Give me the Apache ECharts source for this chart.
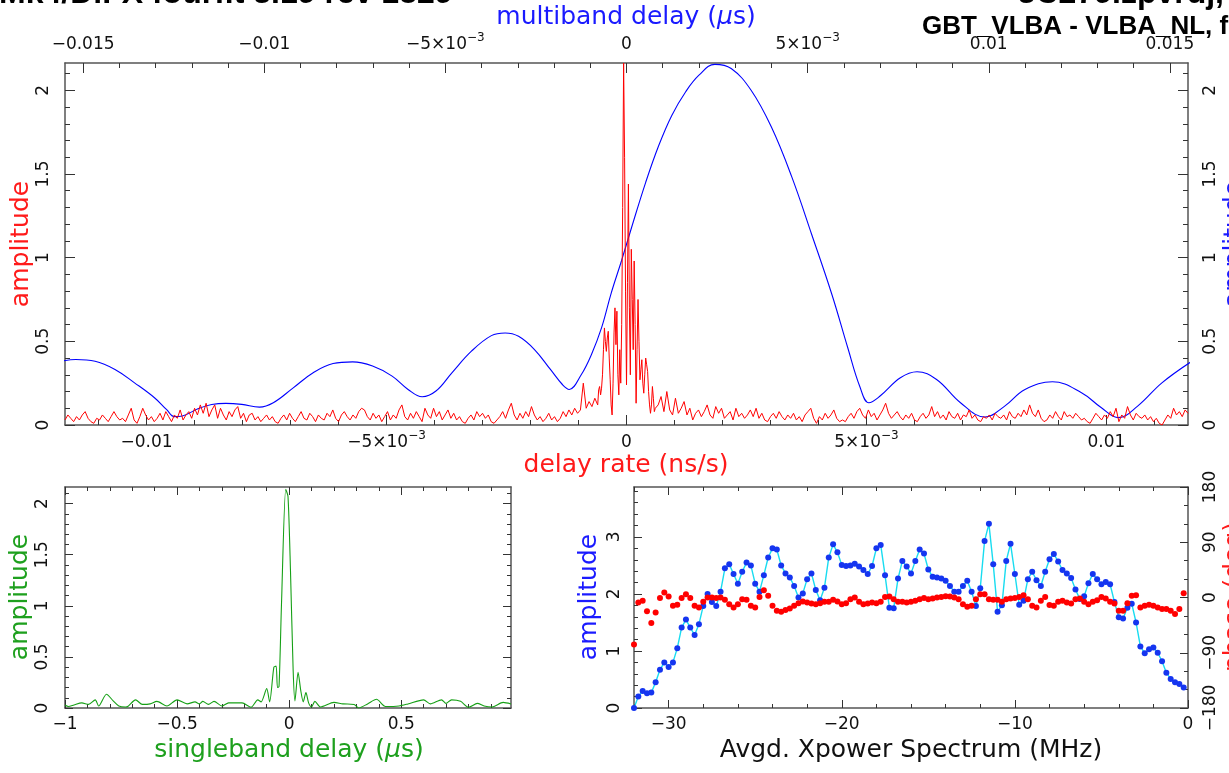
<!DOCTYPE html>
<html>
<head>
<meta charset="utf-8">
<script src="https://cdn.jsdelivr.net/npm/echarts@6/dist/echarts.min.js"></script>
<style>
html,body{margin:0;padding:0;background:#fff;overflow:hidden}
#chart{width:1229px;height:773px}
</style>
</head>
<body>
<div id="chart"></div>
<script>
// ---------- tick label positions ----------
const rateTicks = [-0.01, -0.005, 0, 0.005, 0.01];
const mbdTicks = [-0.015, -0.01, -0.005, 0, 0.005, 0.01, 0.015];
const ampTicks = [0, 0.5, 1, 1.5, 2];
const sbdTicks = [-1, -0.5, 0, 0.5];
const freqTicks = [-30, -20, -10, 0];
const specAmpTicks = [0, 1, 2, 3];
const phaseTicks = [-180, -90, 0, 90, 180];

// ---------- delay-rate amplitude (ns/s) ----------
const rateStep = 0.00006;
const rateLeftStart = -0.0117;
const rateLeftAmp = [
  0.03,0.06,0.04,0.02,0.05,0.03,0.06,0.08,0.04,0.02,
  0.01,0.04,0.03,0.06,0.04,0.02,0.05,0.08,0.05,0.03,
  0.04,0.02,0.06,0.10,0.03,0.01,0.05,0.10,0.06,0.03,
  0.05,0.02,0.04,0.07,0.03,0.08,0.05,0.02,0.06,0.04,
  0.09,0.03,0.06,0.08,0.04,0.10,0.06,0.12,0.07,0.13,
  0.05,0.09,0.12,0.04,0.10,0.06,0.03,0.08,0.05,0.09,
  0.11,0.04,0.07,0.02,0.06,0.07,0.03,0.05,0.02,0.04,
  0.06,0.03,0.05,0.02,0.01,0.04,0.06,0.03,0.07,0.04,
  0.02,0.05,0.08,0.04,0.03,0.07,0.05,0.02,0.06,0.04,
  0.03,0.07,0.05,0.09,0.04,0.02,0.06,0.08,0.05,0.03,
  0.06,0.04,0.08,0.10,0.09,0.05,0.03,0.07,0.04,0.06,
  0.02,0.05,0.08,0.03,0.06,0.04,0.09,0.12,0.05,0.03,
  0.07,0.04,0.08,0.05,0.02,0.10,0.06,0.04,0.10,0.05,
  0.08,0.03,0.06,0.09,0.04,0.07,0.03,0.05,0.02,0.01,
  0.04,0.06,0.03,0.08,0.05,0.07,0.04,0.06,0.02,0.01,
  0.03,0.05,0.08,0.04,0.09,0.13,0.06,0.03,0.07,0.04,
  0.08,0.05,0.11,0.06,0.03,0.05,0.02,0.04,0.07,0.03,
  0.05,0.02,0.04,0.08,0.05,0.09,0.06,0.10,0.07,0.09,
  0.25,0.10,0.14,0.11,0.16
];
const rateCoreStart = -0.0006;
const rateCoreStep = 0.00002;
const rateCoreAmp = [
  0.12,0.21,0.23,0.18,0.22,0.30,0.45,0.58,0.50,0.44,
  0.52,0.56,0.40,0.27,0.12,0.06,0.25,0.55,0.70,0.48,
  0.68,0.30,0.18,0.45,0.25,0.60,1.30,2.163,1.60,0.80,
  0.24,0.85,1.44,0.70,0.30,1.05,0.75,0.45,0.98,0.60,
  0.13,0.45,0.75,0.50,0.27,0.33,0.39,0.25,0.19,0.30,
  0.40,0.36,0.32,0.20,0.12,0.07,0.12,0.23,0.16,0.08,
  0.10
];
const rateRightStart = 0.00066;
const rateRightAmp = [
  0.12,0.17,0.08,0.20,0.09,0.06,0.16,0.07,0.10,0.14,
  0.06,0.10,0.03,0.07,0.09,0.05,0.08,0.12,0.06,0.04,
  0.11,0.07,0.10,0.04,0.06,0.08,0.03,0.10,0.05,0.07,
  0.04,0.06,0.09,0.05,0.10,0.04,0.07,0.03,0.02,0.05,
  0.07,0.04,0.08,0.05,0.03,0.06,0.04,0.07,0.03,0.05,
  0.02,0.06,0.08,0.10,0.04,0.01,0.05,0.03,0.07,0.04,
  0.06,0.09,0.04,0.02,0.03,0.02,0.05,0.07,0.04,0.08,
  0.10,0.06,0.04,0.09,0.05,0.07,0.03,0.06,0.09,0.13,
  0.07,0.04,0.06,0.08,0.05,0.03,0.06,0.04,0.07,0.03,
  0.02,0.05,0.07,0.04,0.06,0.11,0.05,0.08,0.04,0.06,
  0.03,0.08,0.05,0.04,0.07,0.03,0.06,0.05,0.09,0.04,
  0.06,0.03,0.02,0.05,0.04,0.06,0.03,0.07,0.05,0.04,
  0.06,0.03,0.08,0.05,0.04,0.07,0.05,0.09,0.06,0.12,
  0.07,0.05,0.09,0.04,0.02,0.03,0.06,0.04,0.08,0.05,
  0.03,0.08,0.05,0.06,0.04,0.07,0.05,0.03,0.04,0.02,
  0.01,0.04,0.07,0.05,0.03,0.06,0.04,0.08,0.05,0.10,
  0.02,0.06,0.04,0.11,0.06,0.03,0.07,0.05,0.04,0.06,
  0.03,0.05,0.02,0.04,0.01,0.00,0.03,0.06,0.04,0.10,
  0.06,0.08,0.05,0.09,0.07
];

// ---------- multiband delay amplitude (us) ----------
const mbdDelay = [
  -0.0156,-0.0152,-0.01467,-0.01412,-0.01358,-0.01303,-0.0127,-0.01248,-0.01226,-0.01183,
  -0.01145,-0.01106,-0.01062,-0.01013,-0.00975,-0.0092,-0.00865,-0.0081,-0.00756,-0.00701,
  -0.00647,-0.00603,-0.00564,-0.00526,-0.00482,-0.00428,-0.00373,-0.00335,-0.00298,-0.00254,
  -0.0021,-0.00177,-0.00158,-0.00125,-0.00097,-0.00069,-0.00042,-0.00014,0.00014,0.00053,
  0.00089,0.00125,0.00163,0.002,0.00244,0.00289,0.00344,0.004,0.00456,0.00511,
  0.00567,0.00611,0.00644,0.00669,0.007,0.00756,0.00802,0.00856,0.00922,0.00989,
  0.01044,0.011,0.01176,0.01256,0.01311,0.01358,0.01411,0.01478,0.0156
];
const mbdAmp = [
  0.381,0.391,0.381,0.332,0.252,0.163,0.093,0.050,0.054,0.097,
  0.122,0.129,0.123,0.107,0.133,0.222,0.312,0.367,0.377,0.352,
  0.292,0.2125,0.169,0.203,0.312,0.441,0.534,0.550,0.530,0.451,
  0.332,0.242,0.2125,0.30,0.42,0.58,0.79,0.98,1.18,1.45,
  1.67,1.85,1.99,2.09,2.155,2.13,2.0,1.78,1.484,1.14,
  0.78,0.46,0.23,0.133,0.173,0.282,0.318,0.272,0.133,0.048,
  0.113,0.2125,0.258,0.193,0.103,0.044,0.113,0.252,0.38
];

// ---------- singleband delay amplitude (us) ----------
const sbdDelay = [
  -1.0,-0.985,-0.96,-0.925,-0.895,-0.865,-0.85,-0.815,-0.785,-0.76,
  -0.73,-0.72,-0.685,-0.655,-0.62,-0.59,-0.545,-0.5,-0.455,-0.42,
  -0.40,-0.385,-0.36,-0.335,-0.30,-0.27,-0.21,-0.17,-0.14,-0.125,
  -0.10,-0.087,-0.068,-0.058,-0.052,-0.045,-0.034,-0.015,-0.005,0.006,
  0.018,0.026,0.04,0.052,0.063,0.075,0.087,0.10,0.115,0.14,
  0.2,0.24,0.29,0.31,0.35,0.39,0.43,0.49,0.53,0.6,
  0.63,0.68,0.70,0.725,0.765,0.80,0.84,0.87,0.905,0.955,
  0.99
];
const sbdAmp = [
  0.03,0.015,0.03,0.05,0.035,0.08,0.02,0.135,0.07,0.02,
  0.01,0.015,0.08,0.035,0.04,0.065,0.02,0.08,0.04,0.06,
  0.04,0.065,0.035,0.065,0.02,0.05,0.05,0.007,0.08,0.06,
  0.19,0.06,0.40,0.41,0.20,0.21,1.02,2.14,2.07,1.35,
  0.37,0.07,0.35,0.17,0.06,0.15,0.05,0.01,0.065,0.01,
  0.055,0.04,0.035,0.0,0.04,0.085,0.015,0.02,0.04,0.08,
  0.04,0.08,0.045,0.08,0.065,0.007,0.045,0.02,0.01,0.055,
  0.04
];

// ---------- averaged cross-power spectrum ----------
const specFreqStart = -32;
const specFreqStep = 0.25;
const specAmp = [
  0.0,0.2,0.30,0.26,0.27,0.45,0.67,0.80,0.72,0.80,
  1.05,1.41,1.55,1.41,1.28,1.47,1.79,2.0,1.86,1.79,
  2.04,2.45,2.52,2.35,2.18,2.39,2.55,2.50,2.18,2.04,
  2.33,2.64,2.80,2.78,2.50,2.36,2.29,2.14,1.94,2.01,
  2.26,2.36,2.07,1.89,2.11,2.64,2.87,2.73,2.51,2.49,
  2.50,2.53,2.48,2.42,2.35,2.49,2.80,2.86,2.33,1.76,
  1.75,2.27,2.58,2.48,2.36,2.58,2.78,2.71,2.43,2.30,
  2.29,2.27,2.23,2.14,2.04,2.04,2.14,2.23,2.04,1.79,
  2.10,2.93,3.23,2.52,1.69,1.80,2.58,2.88,2.35,1.81,
  1.88,2.26,2.39,2.24,2.14,2.39,2.61,2.70,2.57,2.42,
  2.36,2.28,2.08,1.91,1.96,2.19,2.35,2.26,2.17,2.21,
  2.17,1.86,1.59,1.57,1.76,1.83,1.50,1.08,0.96,1.03,
  1.06,0.97,0.82,0.62,0.51,0.45,0.42,0.36
];
const specPhase = [
  -76.5,-8,-5.4,-22.6,-41.5,-24.3,-1,8,1.6,-13.5,
  -11.9,-1,5.4,-1,-13.5,-16.2,-7,0,0,-1,
  0,-3.8,-10.8,-16.2,-10.8,-2.7,-3.8,-13.5,-16.2,1,
  11.9,2.7,-13.5,-21.6,-23.2,-20.5,-17.8,-13.5,-9.2,-6.5,
  -8.1,-9.7,-10.8,-9.2,-7,-7,-3.8,-6.5,-10.8,-9.2,
  -2.7,0,-7,-10.8,-9.7,-8.1,-9.2,-7,1,1.6,
  -2.7,-7,-7,-8.1,-7,-5.4,-2.7,-1,-2.7,-1.6,
  0,1,2.2,1.6,0,-2.7,-10.8,-15.1,-13.5,-2.7,
  5.4,5.4,-2.7,-3.8,-3.8,-7,-2.7,-1.6,-1,1,
  3.8,-2.7,-13.5,-16.2,-5.4,1,-12.4,-13.5,-7,-5.4,
  -8.1,-9.7,-2.7,-1.6,-7,-10.8,-7,-4.3,1,-1.6,
  -7,-9.7,-21.6,-21.6,-9.2,2.7,3.8,-16.2,-13.5,-11.9,
  -13.5,-16.2,-18.9,-18.9,-21.6,-27,-18.9,7
];

// ---------- build series data ----------
const rateData = []
  .concat(rateLeftAmp.map((a, i) => [rateLeftStart + i * rateStep, a]))
  .concat(rateCoreAmp.map((a, i) => [rateCoreStart + i * rateCoreStep, a]))
  .concat(rateRightAmp.map((a, i) => [rateRightStart + i * rateStep, a]));
const mbdData = mbdDelay.map((d, i) => [d, mbdAmp[i]]);
const sbdData = sbdDelay.map((d, i) => [d, sbdAmp[i]]);
const specAmpData = specAmp.map((a, i) => [specFreqStart + i * specFreqStep, a]);
const specPhaseData = specPhase.map((p, i) => [specFreqStart + i * specFreqStep, p]);

// ---------- styling helpers ----------
const FONT = 'DejaVu Sans';
const INK = '#111';
const FRAME = '#555';
const MINUS = '\u2212';

function steps(lo, hi, step) {
  const out = [];
  const k0 = Math.ceil(lo / step - 1e-9), k1 = Math.floor(hi / step + 1e-9);
  for (let k = k0; k <= k1; k++) out.push(+(k * step).toPrecision(12));
  return out;
}
function plain(v) {
  if (Math.abs(v) < 1e-12) return '0';
  return (v < 0 ? MINUS : '') + String(+Math.abs(v).toPrecision(6));
}
function sci(v) {
  if (Math.abs(Math.abs(v) - 0.005) < 1e-9) {
    return '{n|' + (v < 0 ? MINUS : '') + '5\u00d710}{s|' + MINUS + '3}';
  }
  return '{n|' + plain(v) + '}';
}
const RICH = {
  n: { fontSize: 17, fontFamily: FONT, color: INK, lineHeight: 26 },
  s: { fontSize: 12, fontFamily: FONT, color: INK, lineHeight: 13, verticalAlign: 'top' }
};

const xAxes = [], yAxes = [];
function axisPair(list, base, majors, minors, majLen, minLen, label) {
  const common = Object.assign({ type: 'value', splitLine: { show: false }, silent: true }, base);
  const major = Object.assign({}, common, {
    axisLine: { show: true, onZero: false, lineStyle: { color: FRAME, width: 1.5 } },
    axisTick: { show: true, inside: true, length: majLen, customValues: majors,
                lineStyle: { color: '#333', width: 1 } },
    axisLabel: label ? Object.assign({ show: true, customValues: majors }, label) : { show: false }
  });
  const minor = Object.assign({}, common, {
    axisLine: { show: false, onZero: false },
    axisTick: { show: true, inside: true, length: minLen, customValues: minors,
                lineStyle: { color: '#333', width: 1 } },
    axisLabel: { show: false }
  });
  list.push(major);
  const idx = list.length - 1;
  list.push(minor);
  return idx;
}
function xLab(margin, rich) {
  return rich
    ? { margin: margin, formatter: sci, rich: RICH }
    : { margin: margin, formatter: plain, fontSize: 17, fontFamily: FONT, color: INK, lineHeight: 20 };
}
function yLab(margin) {
  return { margin: margin, rotate: 90, formatter: plain, fontSize: 17, fontFamily: FONT,
           color: INK, lineHeight: 20 };
}

// ---------- main panel: delay rate / multiband delay ----------
const RATE_MIN = -0.0117, RATE_MAX = 0.0117;
const MBD_MIN = -0.0155, MBD_MAX = 0.0155;
const AMP_MAX = 2.163;
const rateX = axisPair(xAxes, { gridIndex: 0, position: 'bottom', min: RATE_MIN, max: RATE_MAX },
  rateTicks, steps(RATE_MIN, RATE_MAX, 0.001), 10, 5, xLab(5, true));
const mbdX = axisPair(xAxes, { gridIndex: 0, position: 'top', min: MBD_MIN, max: MBD_MAX },
  mbdTicks, steps(MBD_MIN, MBD_MAX, 0.001), 10, 5, xLab(5, true));
const mainYL = axisPair(yAxes, { gridIndex: 0, position: 'left', min: 0, max: AMP_MAX },
  ampTicks, steps(0, AMP_MAX, 0.1), 10, 5, yLab(11));
const mainYR = axisPair(yAxes, { gridIndex: 0, position: 'right', min: 0, max: AMP_MAX },
  ampTicks, steps(0, AMP_MAX, 0.1), 10, 5, yLab(13));

// ---------- lower left: singleband delay ----------
const SBD_MIN = -1, SBD_MAX = 0.99;
const sbdX = axisPair(xAxes, { gridIndex: 1, position: 'bottom', min: SBD_MIN, max: SBD_MAX },
  sbdTicks, steps(SBD_MIN, SBD_MAX, 0.1), 8, 4, xLab(7, false));
axisPair(xAxes, { gridIndex: 1, position: 'top', min: SBD_MIN, max: SBD_MAX },
  sbdTicks, steps(SBD_MIN, SBD_MAX, 0.1), 8, 4, null);
const sbdY = axisPair(yAxes, { gridIndex: 1, position: 'left', min: 0, max: AMP_MAX },
  ampTicks, steps(0, AMP_MAX, 0.1), 8, 4, yLab(12));
axisPair(yAxes, { gridIndex: 1, position: 'right', min: 0, max: AMP_MAX },
  ampTicks, steps(0, AMP_MAX, 0.1), 8, 4, null);

// ---------- lower right: averaged cross-power spectrum ----------
const FREQ_MIN = -32, FREQ_MAX = 0;
const SPEC_MAX = 3.876;
const freqX = axisPair(xAxes, { gridIndex: 2, position: 'bottom', min: FREQ_MIN, max: FREQ_MAX },
  freqTicks, steps(FREQ_MIN, FREQ_MAX, 2), 8, 4, xLab(7, false));
axisPair(xAxes, { gridIndex: 2, position: 'top', min: FREQ_MIN, max: FREQ_MAX },
  freqTicks, steps(FREQ_MIN, FREQ_MAX, 2), 8, 4, null);
const specY = axisPair(yAxes, { gridIndex: 2, position: 'left', min: 0, max: SPEC_MAX },
  specAmpTicks, steps(0, SPEC_MAX, 0.2), 8, 4, yLab(9));
const phaseY = axisPair(yAxes, { gridIndex: 2, position: 'right', min: -180, max: 180 },
  phaseTicks, steps(-180, 180, 30), 8, 4, yLab(13));

// ---------- text ----------
function label(x, y, text, color, rot, align) {
  return {
    type: 'text', x: x, y: y, rotation: rot || 0, silent: true,
    style: { text: text, fill: color, fontSize: 25, fontFamily: FONT,
             align: align || 'center', verticalAlign: 'middle',
             textAlign: align || 'center', textVerticalAlign: 'middle' }
  };
}
function muLabel(x, y, before, color) {
  return {
    type: 'text', x: x, y: y, silent: true,
    style: {
      text: '{t|' + before + '(}{m|\u03bc}{t|s)}',
      align: 'center', verticalAlign: 'middle', textAlign: 'center', textVerticalAlign: 'middle',
      fill: color, fontSize: 25, fontFamily: FONT,
      rich: {
        t: { fill: color, color: color, fontSize: 25, fontFamily: FONT },
        m: { fill: color, color: color, fontSize: 25, fontFamily: FONT, fontStyle: 'italic' }
      }
    }
  };
}
function header(x, y, text, size, align) {
  return {
    type: 'text', x: x, y: y, silent: true,
    style: { text: text, fill: '#000', fontSize: size, fontWeight: 'bold',
             fontFamily: 'Liberation Sans', align: align, verticalAlign: 'middle',
             textAlign: align, textVerticalAlign: 'middle' }
  };
}
const HALF_PI = Math.PI / 2;
const graphics = [
  header(-1, -6, 'Mk4/DiFX fourfit 3.19 rev 1829', 32, 'left'),
  header(1224, -6, '3C279.zpvrdj,', 32, 'right'),
  header(922, 27, 'GBT_VLBA - VLBA_NL, fgroup X, pol LL', 26, 'left'),
  muLabel(626, 17, 'multiband delay ', '#1a1aff'),
  label(626, 465, 'delay rate (ns/s)', '#ff1a1a'),
  label(21, 244, 'amplitude', '#ff1a1a', HALF_PI),
  label(1234, 244, 'amplitude', '#1a1aff', HALF_PI),
  muLabel(289, 750, 'singleband delay ', '#1ea01e'),
  label(20, 597, 'amplitude', '#1ea01e', HALF_PI),
  label(911, 750, 'Avgd. Xpower Spectrum (MHz)', '#111'),
  label(589, 597, 'amplitude', '#1a1aff', HALF_PI),
  label(1234, 597, 'phase (deg)', '#ff1a1a', HALF_PI)
];

const chart = echarts.init(document.getElementById('chart'), null, { renderer: 'canvas' });
chart.setOption({
  animation: false,
  backgroundColor: '#fff',
  grid: [
    { left: 65, top: 63, width: 1123, height: 362, containLabel: false, outerBoundsMode: 'none' },
    { left: 65, top: 487, width: 446, height: 221, containLabel: false, outerBoundsMode: 'none' },
    { left: 634, top: 487, width: 554, height: 221, containLabel: false, outerBoundsMode: 'none' }
  ],
  xAxis: xAxes,
  yAxis: yAxes,
  graphic: { elements: graphics },
  series: [
    { type: 'line', xAxisIndex: mbdX, yAxisIndex: mainYR, data: mbdData, smooth: 0.4,
      showSymbol: false, lineStyle: { color: '#0000ff', width: 1.1 }, z: 2 },
    { type: 'line', xAxisIndex: rateX, yAxisIndex: mainYL, data: rateData,
      showSymbol: false, lineStyle: { color: '#ff0000', width: 1 }, z: 3 },
    { type: 'line', xAxisIndex: sbdX, yAxisIndex: sbdY, data: sbdData, smooth: 0.25,
      showSymbol: false, lineStyle: { color: '#16a016', width: 1.1 } },
    { type: 'line', xAxisIndex: freqX, yAxisIndex: specY, data: specAmpData,
      symbol: 'circle', symbolSize: 6, showSymbol: true,
      itemStyle: { color: '#1535f0', opacity: 1 }, lineStyle: { color: '#18dcf0', width: 1.4 }, z: 2 },
    { type: 'scatter', xAxisIndex: freqX, yAxisIndex: phaseY, data: specPhaseData,
      symbolSize: 6, itemStyle: { color: '#ff0000', opacity: 1 }, z: 3 }
  ]
});
</script>
</body>
</html>
